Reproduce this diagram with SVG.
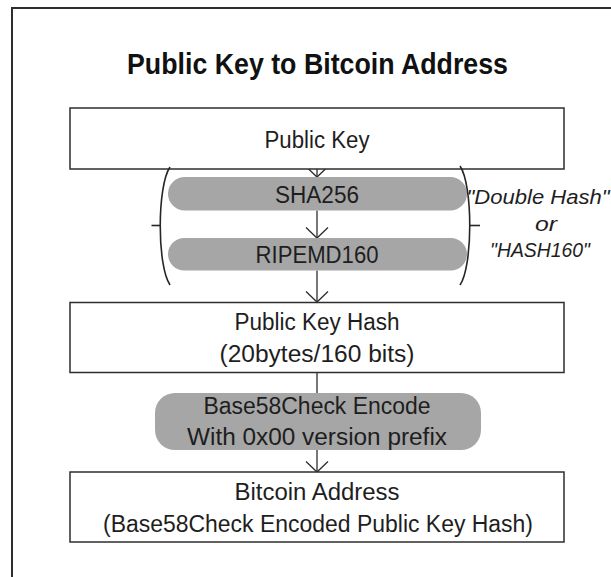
<svg xmlns="http://www.w3.org/2000/svg" width="611" height="577" viewBox="0 0 611 577">
  <style>
    .t { font-family: "Liberation Sans", Arial, sans-serif; font-size: 23.5px; fill: #1e1e1e; text-anchor: middle; }
    .it { font-family: "Liberation Sans", Arial, sans-serif; font-size: 20px; font-style: italic; fill: #1e1e1e; text-anchor: middle; }
    .title { font-family: "Liberation Sans", Arial, sans-serif; font-size: 30px; font-weight: bold; fill: #111; text-anchor: middle; }
    .box { fill: #fff; stroke: #2e2e2e; stroke-width: 1.5; }
    .pill { fill: #a6a6a6; stroke: none; }
    .ln { fill: none; stroke: #2e2e2e; stroke-width: 1.3; }
    .br { fill: none; stroke: #262626; stroke-width: 1.6; }
  </style>
  <defs>
    <marker id="v" markerUnits="userSpaceOnUse" markerWidth="30" markerHeight="30" refX="15" refY="15" orient="auto" viewBox="0 0 30 30">
      <path d="M4.5,4 L15,15 L4.5,26" fill="none" stroke="#2e2e2e" stroke-width="1.3"/>
    </marker>
  </defs>
  <rect x="12" y="8" width="620" height="600" fill="#fff" stroke="#2e2e2e" stroke-width="2"/>
  <text class="title" x="317.5" y="74" textLength="381" lengthAdjust="spacingAndGlyphs">Public Key to Bitcoin Address</text>

  <g id="connectors">
    <line class="ln" x1="317" y1="169" x2="317" y2="177" marker-end="url(#v)"/>
    <line class="ln" x1="317" y1="210.5" x2="317" y2="238" marker-end="url(#v)"/>
    <line class="ln" x1="317" y1="270.5" x2="317" y2="302" marker-end="url(#v)"/>
    <line class="ln" x1="317" y1="372.5" x2="317" y2="393"/>
    <line class="ln" x1="317" y1="450" x2="317" y2="472" marker-end="url(#v)"/>
  </g>

  <g id="public-key">
    <rect class="box" x="70" y="108" width="494" height="61"/>
    <text class="t" x="317" y="148" textLength="105" lengthAdjust="spacingAndGlyphs">Public Key</text>
  </g>

  <g id="sha256">
    <rect class="pill" x="168" y="177" width="299" height="33.5" rx="16.75"/>
    <text class="t" x="317" y="202.5" textLength="84" lengthAdjust="spacingAndGlyphs">SHA256</text>
  </g>

  <g id="ripemd160">
    <rect class="pill" x="168" y="238" width="299" height="32.5" rx="16.25"/>
    <text class="t" x="317" y="262.5" textLength="123" lengthAdjust="spacingAndGlyphs">RIPEMD160</text>
  </g>

  <g id="double-hash-bracket">
    <path class="br" d="M170,167 C157,186 157,266 170,285"/>
    <line class="br" x1="151.5" y1="225.5" x2="160" y2="225.5"/>
    <path class="br" d="M460,166 C473,185 473,266 460,285"/>
    <line class="br" x1="470" y1="225.5" x2="480" y2="225.5"/>
    <text class="it" x="538" y="203.5" textLength="143" lengthAdjust="spacingAndGlyphs">"Double Hash"</text>
    <text class="it" x="546" y="231" textLength="22" lengthAdjust="spacingAndGlyphs">or</text>
    <text class="it" x="540" y="257" textLength="100" lengthAdjust="spacingAndGlyphs">"HASH160"</text>
  </g>

  <g id="public-key-hash">
    <rect class="box" x="70" y="302.5" width="494" height="70"/>
    <text class="t" x="317" y="330" textLength="165" lengthAdjust="spacingAndGlyphs">Public Key Hash</text>
    <text class="t" x="317" y="361.5" textLength="195" lengthAdjust="spacingAndGlyphs">(20bytes/160 bits)</text>
  </g>

  <g id="base58check">
    <rect class="pill" x="155" y="393" width="326" height="57" rx="20"/>
    <text class="t" x="317" y="414" textLength="227" lengthAdjust="spacingAndGlyphs">Base58Check Encode</text>
    <text class="t" x="317" y="445" textLength="260" lengthAdjust="spacingAndGlyphs">With 0x00 version prefix</text>
  </g>

  <g id="bitcoin-address">
    <rect class="box" x="70" y="472" width="494" height="70"/>
    <text class="t" x="317" y="499.5" textLength="165" lengthAdjust="spacingAndGlyphs">Bitcoin Address</text>
    <text class="t" x="318" y="531.5" textLength="430" lengthAdjust="spacingAndGlyphs">(Base58Check Encoded Public Key Hash)</text>
  </g>
</svg>
